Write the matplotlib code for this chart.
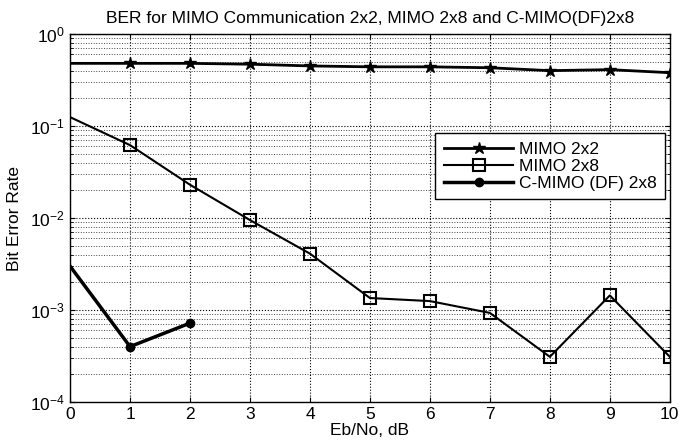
import matplotlib
matplotlib.use("Agg")
import matplotlib.pyplot as plt
from matplotlib.ticker import LogLocator, NullFormatter

plt.rcParams['font.family'] = ['Liberation Sans', 'DejaVu Sans']

snr = [0, 1, 2, 3, 4, 5, 6, 7, 8, 9, 10]
ber_2x2 = [0.48, 0.48, 0.48, 0.47, 0.45, 0.44, 0.44, 0.43, 0.40, 0.41, 0.38]
ber_2x8 = [0.125, 0.062, 0.023, 0.0095, 0.0041, 0.00135, 0.00125, 0.00093, 0.00031, 0.00144, 0.00031]
snr_c = [0, 1, 2]
ber_c = [0.0030, 0.0004, 0.00072]

fig = plt.figure(figsize=(6.8, 4.42), dpi=100)
ax = fig.add_axes([0.103, 0.0905, 0.882, 0.8325])

ax.semilogy(snr, ber_2x2, '-k*', lw=2, markersize=9, markevery=list(range(1, len(snr))), label='MIMO 2x2')
ax.semilogy(snr, ber_2x8, '-ks', lw=1.5, markersize=8, markerfacecolor='none', markeredgewidth=1.5,
            markevery=list(range(1, len(snr))), label='MIMO 2x8')
ax.semilogy(snr_c, ber_c, '-k.', lw=2.5, markersize=12, markevery=[1, 2], label='C-MIMO (DF) 2x8')

ax.set_xlim(0, 10)
ax.set_ylim(1e-4, 1)
ax.set_xticks(snr)
ax.yaxis.set_major_locator(LogLocator(base=10, numticks=10))
ax.yaxis.set_minor_locator(LogLocator(base=10, subs=range(2, 10), numticks=20))
ax.yaxis.set_minor_formatter(NullFormatter())
ax.grid(True, which='major', linestyle=':', color='black', lw=0.8)
ax.grid(True, which='minor', axis='y', linestyle=':', color='#444444', lw=0.7)
ax.tick_params(direction='in', which='both', top=True, right=True, labelsize=12.5)
for s in ax.spines.values():
    s.set_linewidth(1)

ax.set_title('BER for MIMO Communication 2x2, MIMO 2x8 and C-MIMO(DF)2x8', fontsize=12.5, pad=8)
ax.set_xlabel('Eb/No, dB', fontsize=12.5, labelpad=1)
ax.set_ylabel('Bit Error Rate', fontsize=12.5, labelpad=6)

leg = ax.legend(loc='upper right', bbox_to_anchor=(0.992, 0.731), fontsize=12.5,
                fancybox=False, framealpha=1, edgecolor='black', handlelength=4.0,
                borderaxespad=0, labelspacing=0.1, borderpad=0.5, handletextpad=0.3)
leg.get_frame().set_linewidth(1)

fig.savefig('out.png', dpi=100)
